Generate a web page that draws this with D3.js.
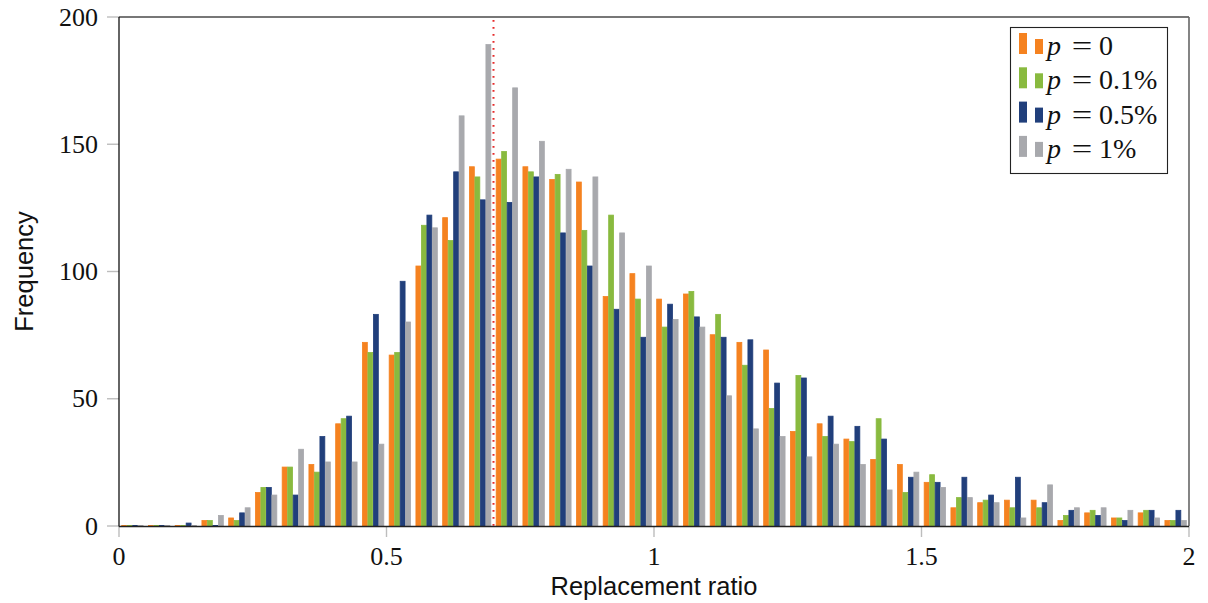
<!DOCTYPE html>
<html>
<head>
<meta charset="utf-8">
<script src="https://cdn.jsdelivr.net/npm/d3@7"></script>
<style>
  html, body { margin: 0; padding: 0; background: #fff; }
  svg { display: block; }
  svg text.serif { font-family: "Liberation Serif", serif; }
  svg text.sans { font-family: "Liberation Sans", sans-serif; }
</style>
</head>
<body>
<svg id="chart" width="1208" height="603"></svg>
<script>
// Histogram bin centres (bin width 0.05)
const binCenters = [0.025, 0.075, 0.125, 0.175, 0.225, 0.275, 0.325, 0.375, 0.425, 0.475,
  0.525, 0.575, 0.625, 0.675, 0.725, 0.775, 0.825, 0.875, 0.925, 0.975,
  1.025, 1.075, 1.125, 1.175, 1.225, 1.275, 1.325, 1.375, 1.425, 1.475,
  1.525, 1.575, 1.625, 1.675, 1.725, 1.775, 1.825, 1.875, 1.925, 1.975];

// Frequencies per bin for each value of p
const freqP0 = [0, 0, 0, 2, 3, 13, 23, 24, 40, 72,
  67, 102, 121, 141, 144, 141, 136, 135, 90, 99,
  89, 91, 75, 72, 69, 37, 40, 34, 26, 24,
  17, 7, 9, 10, 10, 2, 5, 3, 5, 2];
const freqP01 = [0, 0, 0, 2, 2, 15, 23, 21, 42, 68,
  68, 118, 112, 137, 147, 139, 138, 116, 122, 89,
  78, 92, 83, 63, 46, 59, 35, 33, 42, 13,
  20, 11, 10, 7, 7, 4, 6, 3, 6, 2];
const freqP05 = [0, 0, 1, 0, 5, 15, 12, 35, 43, 83,
  96, 122, 139, 128, 127, 137, 115, 102, 85, 74,
  87, 82, 74, 73, 56, 58, 43, 39, 34, 19,
  17, 19, 12, 19, 9, 6, 4, 2, 6, 6];
const freqP1 = [0, 0, 0, 4, 7, 12, 30, 25, 25, 32,
  80, 117, 161, 189, 172, 151, 140, 137, 115, 102,
  81, 78, 51, 38, 35, 27, 32, 24, 14, 21,
  15, 11, 9, 3, 16, 7, 7, 6, 3, 2];

const seriesNames = ["p = 0", "p = 0.1%", "p = 0.5%", "p = 1%"];
const seriesValueText = ["0", "0.1%", "0.5%", "1%"];
const seriesColors = ["#F58220", "#89BA3F", "#213F7B", "#A8A9AD"];
const seriesData = [freqP0, freqP01, freqP05, freqP1];

const xTicks = [0, 0.5, 1, 1.5, 2];
const yTicks = [0, 50, 100, 150, 200];
const markerX = 0.7;

const svg = d3.select("#chart");
const plotLeft = 119, plotRight = 1189, plotTop = 17, plotBottom = 526;

const x = d3.scaleLinear().domain([0, 2]).range([plotLeft, plotRight]);
const y = d3.scaleLinear().domain([0, 200]).range([plotBottom, plotTop]);
const offset = d3.scaleBand().domain(d3.range(seriesNames.length)).range([-11, 11]);

// Apply a font family through attribute, inline style and class together
function serifText(sel) {
  return sel.attr("class", "serif")
    .attr("font-family", "Liberation Serif")
    .style("font-family", '"Liberation Serif"');
}
function sansText(sel) {
  return sel.attr("class", "sans")
    .attr("font-family", "Liberation Sans")
    .style("font-family", '"Liberation Sans"');
}

// Bars (a thin outline keeps zero-count bins visible as a sliver on the baseline)
seriesData.forEach((vals, si) => {
  svg.append("g")
    .selectAll("rect")
    .data(vals.map((v, i) => ({ c: binCenters[i], v })))
    .join("rect")
    .attr("x", d => x(d.c) + offset(si) + 0.3)
    .attr("width", offset.bandwidth() - 0.6)
    .attr("y", d => y(d.v) - 0.4)
    .attr("height", d => y(0) - y(d.v) + 0.4)
    .attr("fill", seriesColors[si])
    .attr("stroke", seriesColors[si])
    .attr("stroke-width", 0.8);
});

// Red dotted reference line
svg.append("line")
  .attr("x1", x(markerX)).attr("x2", x(markerX))
  .attr("y1", y(200) + 3).attr("y2", y(0))
  .attr("stroke", "#E62A2A")
  .attr("stroke-width", 2)
  .attr("stroke-dasharray", "1.8,5.2");

// Ticks
const tickColor = "#BDBDBD";
svg.append("g").selectAll("line")
  .data(yTicks).join("line")
  .attr("x1", plotLeft - 12).attr("x2", plotLeft)
  .attr("y1", d => y(d)).attr("y2", d => y(d))
  .attr("stroke", tickColor).attr("stroke-width", 1.4);
svg.append("g").selectAll("line")
  .data(xTicks).join("line")
  .attr("x1", d => x(d)).attr("x2", d => x(d))
  .attr("y1", plotBottom).attr("y2", plotBottom + 11)
  .attr("stroke", tickColor).attr("stroke-width", 1.4);

// Frame
svg.append("line").attr("x1", plotLeft).attr("x2", plotRight).attr("y1", plotTop).attr("y2", plotTop)
  .attr("stroke", "#777").attr("stroke-width", 1.8);
svg.append("line").attr("x1", plotRight).attr("x2", plotRight).attr("y1", plotTop).attr("y2", plotBottom)
  .attr("stroke", "#666").attr("stroke-width", 1.6);
svg.append("line").attr("x1", plotLeft).attr("x2", plotLeft).attr("y1", plotTop).attr("y2", plotBottom + 0.5)
  .attr("stroke", "#111").attr("stroke-width", 1.3);
svg.append("line").attr("x1", plotLeft).attr("x2", plotRight).attr("y1", plotBottom + 0.5).attr("y2", plotBottom + 0.5)
  .attr("stroke", "#222").attr("stroke-width", 1.4);

// Tick labels
const fmt = d => String(d);
svg.append("g").selectAll("text")
  .data(yTicks).join("text")
  .call(serifText)
  .attr("x", plotLeft - 21).attr("y", d => y(d) + 8.5)
  .attr("text-anchor", "end")
  .attr("font-size", 26).attr("fill", "#111")
  .text(fmt);
svg.append("g").selectAll("text")
  .data(xTicks).join("text")
  .call(serifText)
  .attr("x", d => x(d)).attr("y", 565)
  .attr("text-anchor", "middle")
  .attr("font-size", 26).attr("fill", "#111")
  .text(fmt);

// Axis titles
svg.append("text")
  .call(sansText)
  .attr("x", (plotLeft + plotRight) / 2).attr("y", 595)
  .attr("text-anchor", "middle")
  .attr("font-size", 25.5).attr("fill", "#111")
  .text("Replacement ratio");
svg.append("text")
  .call(sansText)
  .attr("transform", `translate(33,${(plotTop + plotBottom) / 2}) rotate(-90)`)
  .attr("text-anchor", "middle")
  .attr("font-size", 25.5).attr("fill", "#111")
  .text("Frequency");

// Legend
const legend = svg.append("g");
legend.append("rect")
  .attr("x", 1010.5).attr("y", 27.5).attr("width", 157).attr("height", 146)
  .attr("fill", "#fff").attr("stroke", "#222").attr("stroke-width", 1.1);
seriesNames.forEach((name, i) => {
  const base = 54 + i * 34.3;
  const row = legend.append("g").attr("aria-label", name);
  row.append("rect").attr("x", 1019).attr("y", base - 21).attr("width", 8).attr("height", 21)
    .attr("fill", seriesColors[i]);
  row.append("rect").attr("x", 1035).attr("y", base - 15).attr("width", 8).attr("height", 15)
    .attr("fill", seriesColors[i]);
  row.append("text")
    .call(serifText)
    .attr("x", 1047).attr("y", base + 1)
    .attr("font-size", 28).attr("font-style", "italic").attr("fill", "#111")
    .text("p");
  row.append("text")
    .call(serifText)
    .attr("x", 1082).attr("y", base + 1)
    .attr("text-anchor", "middle")
    .attr("font-size", 28).attr("fill", "#111")
    .attr("transform", "translate(1082,0) scale(1.3,1) translate(-1082,0)")
    .text("=");
  row.append("text")
    .call(serifText)
    .attr("x", 1099).attr("y", base + 1)
    .attr("font-size", 28).attr("fill", "#111")
    .text(seriesValueText[i]);
});
</script>
</body>
</html>
